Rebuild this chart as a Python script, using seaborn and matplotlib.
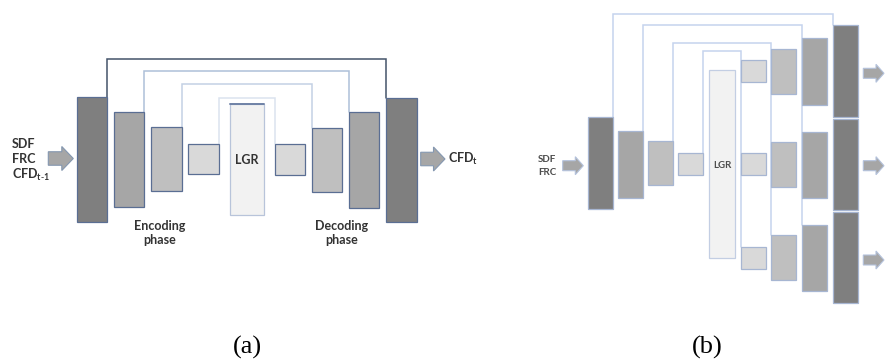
import matplotlib
matplotlib.use("Agg")
import matplotlib.pyplot as plt
from matplotlib.patches import FancyArrow
import seaborn as sns

# ---- text content ----
inputs_a = ["SDF", "FRC", r"CFD$_{\mathregular{t\text{-}1}}$"]
output_a = r"CFD$_{\mathregular{t}}$"
inputs_b = ["SDF", "FRC"]
phase_labels = ["Encoding\nphase", "Decoding\nphase"]
bottleneck_label = "LGR"
panel_labels = ["(a)", "(b)"]

# fill shade per depth level (0 = outermost)
level_colors = ["#7f7f7f", "#a6a6a6", "#bfbfbf", "#d9d9d9"]
lgr_color = "#f2f2f2"

# ---- layout (pixel space, y grows downward) ----
# panel (a): (left, right, top, bottom) of encoder blocks by level
enc_a = [(76.7, 107.3, 96.7, 222.3), (114, 144, 111.7, 207), (151.3, 181.7, 127.3, 191.3), (188.3, 219, 144, 174.3)]
dec_a = [(386, 417, 97.7, 222.3), (349, 379.3, 112.3, 207.7), (312, 342.3, 128.3, 192), (274.7, 305.3, 144, 174.7)]
lgr_a = (230.3, 263.7, 104, 215)
skip_a = [(107.3, 386, 59, 96.7, 97.7), (144, 349, 71.3, 111.7, 112.3), (181.7, 312, 83.7, 127.3, 128.3), (219, 274.7, 97.7, 144, 144)]
skip_a_colors = ["#44546a", "#adc0d8", "#c3d1e4", "#dbe3ef"]

# panel (b)
enc_b = [(588, 612.7, 117, 209), (617.7, 643, 131, 197.7), (648, 673, 140.7, 185), (678.3, 702.7, 153.3, 175.3)]
lgr_b = (709, 735, 70.3, 258.3)
dec_b_x = [(833.3, 857.7), (802.3, 827), (771.3, 796), (741.3, 765.7)]
dec_b_rows = [
    [(25.3, 117.3), (38.3, 104.7), (49, 93.7), (60, 81.7)],
    [(119, 210.3), (131.7, 198), (142.3, 186.7), (153.3, 175.3)],
    [(212, 303.3), (224.7, 291.3), (235.3, 280), (246.7, 268.7)],
]
# (x_left, x_right, y_top, y_left_end, y_right_end)
skip_b = [(612.7, 833.3, 14.3, 117, 25.3), (643, 802.3, 25, 131, 224.7), (673, 771.3, 43, 140.7, 235.3), (702.7, 741.3, 51, 153.3, 246.7)]

sns.set_theme(style="white")
plt.rcParams["font.family"] = ["Lato", "DejaVu Sans"]

fig = plt.figure(figsize=(8.87, 3.63), dpi=100)
ax = fig.add_axes([0, 0, 1, 1])
ax.set_xlim(0, 887)
ax.set_ylim(363, 0)
ax.axis("off")


def block(box, color, edge, lw=0.9, z=3):
    l, r, t, b = box
    ax.bar(l, b - t, width=r - l, bottom=t, align="edge", color=color,
           edgecolor=edge, linewidth=lw, zorder=z)


def skip(x0, x1, yt, y0, y1, color, lw=1.0):
    ax.plot([x0, x0, x1, x1], [y0, yt, yt, y1], color=color, lw=lw,
            solid_joinstyle="miter", zorder=2)


def arrow(x0, x1, yc, shaft, head_w, head_l, edge):
    ax.add_patch(FancyArrow(x0, yc, x1 - x0, 0, width=shaft, head_width=head_w,
                            head_length=head_l, length_includes_head=True,
                            facecolor="#a6a6a6", edgecolor=edge, linewidth=0.8, zorder=3))


# ---------- panel (a) ----------
edge_a = "#5a6e93"
for (x0, x1, yt, y0, y1), c in zip(skip_a, skip_a_colors):
    skip(x0, x1, yt, y0, y1, c, lw=1.1)
for lvl, box in enumerate(enc_a):
    block(box, level_colors[lvl], edge_a)
for lvl, box in enumerate(dec_a):
    block(box, level_colors[lvl], edge_a)
block(lgr_a, lgr_color, "#b8c4da")
ax.plot([lgr_a[0], lgr_a[1]], [lgr_a[2], lgr_a[2]], color="#6f82a6", lw=1.4, zorder=4)
ax.text((lgr_a[0] + lgr_a[1]) / 2, 159.5, bottleneck_label, ha="center", va="center",
        fontsize=9, fontweight="bold", color="#333333", zorder=5)

arrow(48.3, 73.3, 158.5, 13.5, 24, 11.5, "#8497b0")
arrow(420.7, 445, 159, 13.5, 24, 11.5, "#8497b0")
for txt, y in zip(inputs_a, [144, 159, 175]):
    ax.text(12, y, txt, ha="left", va="center", fontsize=9, fontweight="bold", color="#333333")
ax.text(448, 159, output_a, ha="left", va="center", fontsize=9, fontweight="bold", color="#333333")

for txt, xc in zip(phase_labels, [160, 341.7]):
    ax.text(xc, 233, txt, ha="center", va="center", fontsize=9, fontweight="bold",
            color="#333333", linespacing=1.25)

# ---------- panel (b) ----------
edge_b = "#a7b6d2"
for x0, x1, yt, y0, y1 in skip_b:
    skip(x0, x1, yt, y0, y1, "#c5d3ee", lw=1.1)
for lvl, box in enumerate(enc_b):
    block(box, level_colors[lvl], edge_b)
block(lgr_b, lgr_color, "#c3cee3")
ax.text((lgr_b[0] + lgr_b[1]) / 2, 165.7, bottleneck_label, ha="center", va="center",
        fontsize=7, fontweight="bold", color="#4d4d4d", zorder=5)
for row in dec_b_rows:
    for lvl, ((l, r), (t, b)) in enumerate(zip(dec_b_x, row)):
        block((l, r, t, b), level_colors[lvl], edge_b)

arrow(562.7, 583.3, 165.7, 10, 18, 8, "#b4c2dc")
for yc in [73.3, 165.7, 260]:
    arrow(863.3, 884, yc, 10, 18, 8, "#b4c2dc")
for txt, y in zip(inputs_b, [159.7, 172.3]):
    ax.text(538, y, txt, ha="left", va="center", fontsize=7, fontweight="bold", color="#4d4d4d")

# ---------- panel captions ----------
for txt, xc in zip(panel_labels, [247.5, 707]):
    ax.text(xc, 347.5, txt, ha="center", va="center", fontsize=19,
            family=["Liberation Serif", "DejaVu Serif"], color="#000000")

fig.savefig("out.png", dpi=100, facecolor="white")
